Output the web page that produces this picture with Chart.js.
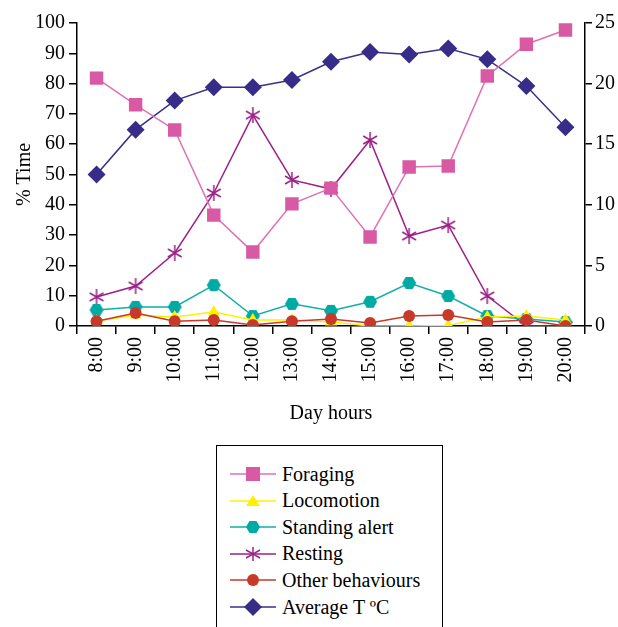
<!DOCTYPE html>
<html>
<head>
<meta charset="utf-8">
<script src="https://cdn.jsdelivr.net/npm/chart.js@4.4.1/dist/chart.umd.min.js"></script>
<style>
  body { margin: 0; background: #fff; width: 618px; height: 627px; overflow: hidden; position: relative; }
  #wrap { position: absolute; left: 0; top: 0; width: 618px; height: 428px; }
  #legend {
    position: absolute; left: 216px; top: 445px; width: 227px; height: 200px;
    border: 1.5px solid #000; box-sizing: border-box;
    font-family: "Times New Roman", "Liberation Serif", Times, "DejaVu Serif", serif; font-size: 20px; color: #000;
  }
  .item { position: absolute; left: 13px; height: 26px; display: flex; align-items: center; }
  .item svg { margin-right: 6px; }
</style>
</head>
<body>
<div id="wrap"><canvas id="chart"></canvas></div>
<div id="legend"></div>
<script>
// DATA
const hours = ["8:00", "9:00", "10:00", "11:00", "12:00", "13:00", "14:00",
  "15:00", "16:00", "17:00", "18:00", "19:00", "20:00"];
const foraging = [81.8, 73, 64.7, 36.6, 24.4, 40.3, 45.5, 29.4, 52.5, 52.8, 82.5, 93, 97.7];
const locomotion = [1.6, 3.6, 3, 4.6, 2, 2, 1.3, 0, 0, 0.2, 3, 3.3, 2];
const standingAlert = [5.3, 6.3, 6.3, 13.5, 3.3, 7.3, 5, 8, 14.2, 9.9, 3.3, 2.3, 1.3];
const resting = [9.6, 13.2, 24.1, 43.9, 69.6, 48.2, 45.2, 61.4, 29.7, 33.3, 9.9, 0, 0];
const otherBehaviours = [1.6, 4.3, 1.6, 2, 0.3, 1.6, 2.3, 1, 3.3, 3.6, 1.3, 2, 0];
const averageT = [12.5, 16.2, 18.6, 19.7, 19.7, 20.3, 21.8, 22.6, 22.4, 22.9, 22.0, 19.8, 16.4];
const leftTicks = [0, 100, 10];
const rightTicks = [0, 25, 5];

Chart.defaults.font.family = "'Times New Roman', 'Liberation Serif', Times, 'DejaVu Serif', serif";
Chart.defaults.font.size = 20;
Chart.defaults.color = "#000";

// custom markers
function hexagon(r, color) {
  const c = document.createElement("canvas");
  c.width = c.height = r * 2 + 2;
  const ctx = c.getContext("2d");
  ctx.fillStyle = color;
  ctx.beginPath();
  for (let i = 0; i < 6; i++) {
    const a = Math.PI / 3 * i;
    ctx.lineTo(r + 1 + r * Math.cos(a), r + 1 + r * Math.sin(a));
  }
  ctx.closePath();
  ctx.fill();
  return c;
}
function asterisk(r, color) {
  const c = document.createElement("canvas");
  c.width = c.height = r * 2 + 2;
  const ctx = c.getContext("2d");
  ctx.strokeStyle = color;
  ctx.lineWidth = 1.5;
  ctx.beginPath();
  [90, 30, 150].forEach((d) => {
    const a = d * Math.PI / 180;
    ctx.moveTo(r + 1 - r * Math.cos(a), r + 1 - r * Math.sin(a));
    ctx.lineTo(r + 1 + r * Math.cos(a), r + 1 + r * Math.sin(a));
  });
  ctx.stroke();
  return c;
}

const series = [
  { label: "Foraging", data: foraging, line: "#e070b4", color: "#d85aa4", style: "rect", radius: 9.5, axis: "y" },
  { label: "Locomotion", data: locomotion, line: "#fff000", color: "#fff000", style: "triangle", radius: 7, axis: "y" },
  { label: "Standing alert", data: standingAlert, line: "#10b0a8", color: "#00aaa4", style: hexagon(7, "#00aaa4"), radius: 7, axis: "y" },
  { label: "Resting", data: resting, line: "#9c2088", color: "#9c2088", style: asterisk(8, "#9c2088"), radius: 8, axis: "y" },
  { label: "Other behaviours", data: otherBehaviours, line: "#c8392a", color: "#c8392a", style: "circle", radius: 6, axis: "y" },
  { label: "Average T ºC", data: averageT, line: "#3a2f8a", color: "#372d88", style: "rectRot", radius: 9, axis: "yT" },
];

const datasets = series.map((s, i) => ({
  label: s.label,
  data: s.data,
  yAxisID: s.axis,
  borderColor: s.line,
  borderWidth: 1.5,
  backgroundColor: s.color,
  pointStyle: s.style,
  pointRadius: s.radius,
  pointBorderWidth: 0,
  pointBorderColor: s.color,
  pointBackgroundColor: s.color,
  tension: 0,
  order: [3, 1, 2, 4, 0, 5][i],
}));

new Chart(document.getElementById("chart"), {
  type: "line",
  data: { labels: hours, datasets: datasets },
  options: {
    responsive: true,
    maintainAspectRatio: false,
    animation: false,
    layout: { padding: { top: 23, bottom: 0, left: 0, right: 0 } },
    plugins: { legend: { display: false }, tooltip: { enabled: false } },
    scales: {
      x: {
        offset: true,
        grid: { offset: true, drawOnChartArea: false, color: "#000", tickLength: 8, lineWidth: 1.5 },
        border: { color: "#000", width: 1.5 },
        ticks: { minRotation: 90, maxRotation: 90, padding: 3, font: { size: 20 } },
        title: { display: true, text: "Day hours", font: { size: 20 }, padding: { bottom: 2 } },
        afterFit: (scale) => { scale.height = 102; },
      },
      y: {
        position: "left",
        min: leftTicks[0], max: leftTicks[1],
        ticks: { stepSize: leftTicks[2], padding: 4, font: { size: 20 } },
        grid: { drawOnChartArea: false, color: "#000", tickLength: 8, lineWidth: 1.5 },
        border: { color: "#000", width: 1.5 },
        title: { display: true, text: "% Time", font: { size: 20 }, padding: { top: 13 } },
        afterFit: (scale) => { scale.width = 77; },
      },
      yT: {
        position: "right",
        min: rightTicks[0], max: rightTicks[1],
        ticks: { stepSize: rightTicks[2], padding: 3, font: { size: 20 } },
        grid: { drawOnChartArea: false, color: "#000", tickLength: 7, lineWidth: 1.5 },
        border: { color: "#000", width: 1.5 },
        afterFit: (scale) => { scale.width = 33; },
      },
    },
  },
});

// LEGEND
function markerSvg(s) {
  const c = s.color;
  let m = "";
  if (s.label === "Foraging") m = `<rect x="16" y="0" width="14" height="14" fill="${c}"/>`;
  else if (s.label === "Locomotion") m = `<polygon points="23,1 30,12 16,12" fill="${c}"/>`;
  else if (s.label === "Standing alert") m = `<polygon points="30,7 26.5,13 19.5,13 16,7 19.5,1 26.5,1" fill="${c}"/>`;
  else if (s.label === "Resting") m = `<path d="M23,0 L23,14 M16,3 L30,11 M16,11 L30,3" stroke="${c}" stroke-width="1.5"/>`;
  else if (s.label === "Other behaviours") m = `<circle cx="23" cy="7" r="6" fill="${c}"/>`;
  else m = `<polygon points="23,-2 32,7 23,16 14,7" fill="${c}"/>`;
  return `<svg width="46" height="14" viewBox="0 0 46 14" overflow="visible"><line x1="0" y1="7" x2="46" y2="7" stroke="${s.line}" stroke-width="1.5"/>${m}</svg>`;
}
const legend = document.getElementById("legend");
series.forEach((s, i) => {
  const div = document.createElement("div");
  div.className = "item";
  div.style.top = (15 + i * 26.6) + "px";
  div.innerHTML = markerSvg(s) + "<span>" + s.label + "</span>";
  legend.appendChild(div);
});
</script>
</body>
</html>
